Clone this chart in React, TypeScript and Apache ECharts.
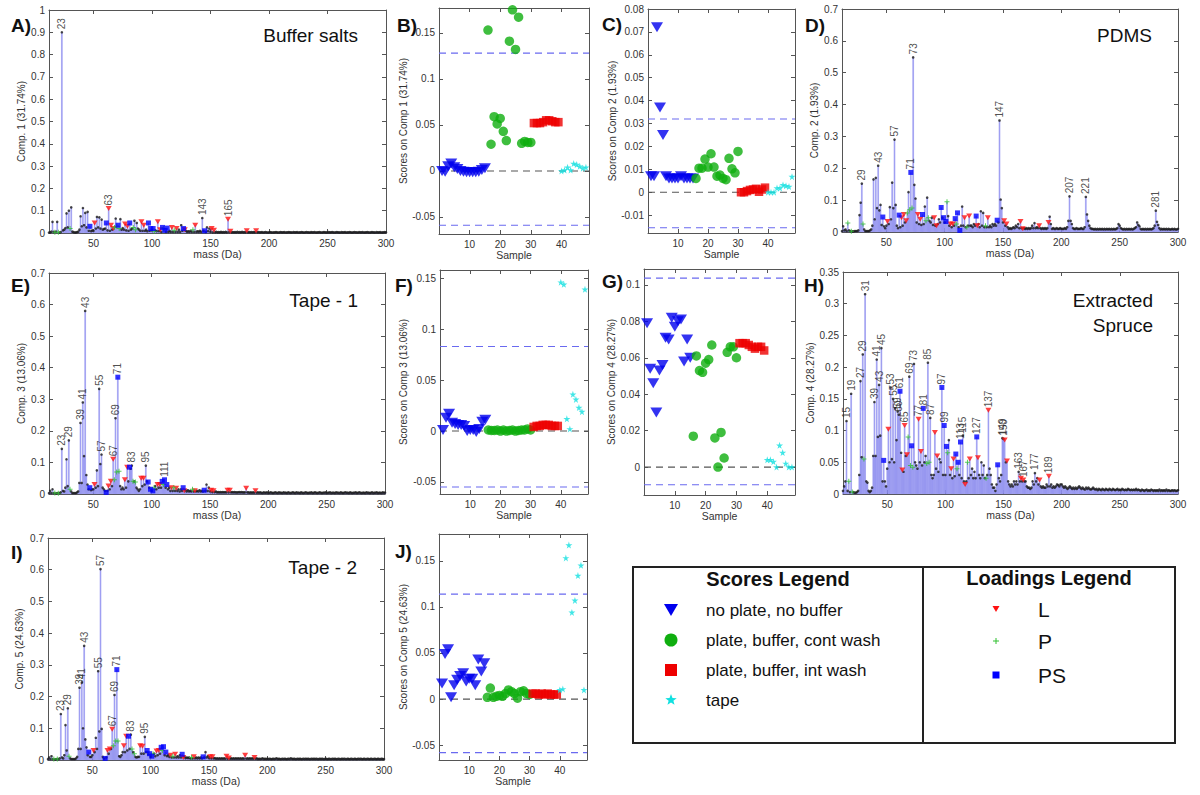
import React, { useEffect, useRef } from "react";
import * as echarts from "echarts";

const FONT = "'Liberation Sans', Arial, Helvetica, sans-serif";
const FRAME = "#555";
const TXT = "#222";

// ---------- shared axes / categories ----------
const MASS_FIRST = 12; // loadings are given for masses 12..300 Da
const MASS_MIN = 12;
const MASS_MAX = 300;
const SAMPLE_MIN = 0;
const SAMPLE_MAX = 49;
const massTicks = [50, 100, 150, 200, 250, 300];
const sampleTicks = [10, 20, 30, 40];
const ticksLoad07 = [0, 0.1, 0.2, 0.3, 0.4, 0.5, 0.6, 0.7];
const ticksLoad1 = [0, 0.1, 0.2, 0.3, 0.4, 0.5, 0.6, 0.7, 0.8, 0.9, 1];
const ticksLoad035 = [0, 0.05, 0.1, 0.15, 0.2, 0.25, 0.3, 0.35];
const ticksScore15 = [-0.05, 0, 0.05, 0.1, 0.15];
const ticksScoreC = [-0.01, 0, 0.01, 0.02, 0.03, 0.04, 0.05, 0.06, 0.07, 0.08];
const ticksScoreG = [0, 0.02, 0.04, 0.06, 0.08, 0.1];

// variable classes (masses)
const classL = [51, 63, 65, 67, 77, 79, 91, 93, 105, 107, 117, 121, 128, 137, 151, 153, 165, 167, 181, 189];
const classP = [17, 20, 30, 68, 70, 72, 84, 86, 102, 110, 119, 135];
const classPS = [47, 61, 71, 81, 97, 99, 101, 109, 111, 113, 127, 145];

// ---------- loadings (x 1e-3), masses 12..300 ----------
const compA = [
  2,3,6,50,5,3,6,50,3,2, 4,900,12,15,22,88,25,100,20,115, 6,4,2,3,4,6,15,75,30,112,
  35,90,25,95,10,30,8,12,10,45, 20,72,25,70,20,60,15,18,20,45, 12,110,10,35,15,20,25,65,30,35,
  20,62,15,22,15,40,12,30,10,45, 15,20,25,55,15,45,20,15,10,50, 10,35,10,15,8,45,10,20,12,20,
  8,12,8,50,8,15,5,25,20,12, 5,22,5,10,5,25,5,12,5,20, 5,15,5,35,10,20,15,10,5,8,
  5,10,5,15,5,35,5,8,5,10, 5,67,10,10,5,25,8,20,5,20, 3,12,3,5,3,4,3,5,3,4,
  3,5,3,62,4,8,3,4,3,4, 3,5,3,4,3,5,3,4,3,10, 3,4,3,4,3,4,3,10,3,4,
  3,3,4,2,3,4,3,2,3,4, 3,2,3,3,4,3,2,3,4,3, 3,4,2,3,3,4,3,3,2,4,
  3,3,4,2,3,3,4,3,2,3, 4,3,3,2,4,3,3,4,2,3, 3,4,3,2,3,4,3,3,2,4,
  3,3,4,3,2,3,4,3,3,2, 4,3,3,4,2,3,3,4,3,2, 3,4,3,3,2,4,3,3,4,2,
  3,3,4,3,2,3,4,3,3,2, 4,3,3,4,2,3,3,4,3,
];
const compD = [
  3,18,5,8,3,28,5,3,2,2, 2,3,3,3,5,53,92,152,25,8, 3,3,3,3,5,8,20,165,40,170,
  75,208,68,85,22,47,18,12,20,33, 25,78,40,155,75,290,85,20,12,53, 15,45,20,55,30,35,60,125,70,187,
  75,548,148,105,30,55,25,40,22,55, 25,80,35,108,45,35,30,45,22,45, 20,20,25,40,30,77,45,45,30,33,
  95,50,20,25,15,25,20,42,25,60, 15,5,20,80,20,45,15,15,20,50, 20,20,15,25,20,50,20,25,15,65,
  20,60,15,20,15,45,15,20,15,25, 20,25,20,37,30,350,102,75,30,35, 20,25,15,10,12,10,12,15,12,20,
  15,25,12,33,12,10,12,10,12,10, 12,10,12,20,12,28,12,15,12,20, 12,10,12,10,12,10,12,30,48,25,
  10,12,10,10,12,10,10,12,10,10, 10,12,10,15,35,112,35,25,12,10, 10,12,10,10,10,12,10,10,15,110,
  55,35,20,12,10,10,8,10,8,10, 8,10,8,10,8,10,8,10,8,10, 8,10,8,10,8,10,12,25,20,12,
  10,8,10,8,10,8,10,8,10,8, 10,12,15,30,22,18,10,8,10,8, 10,8,10,8,10,8,10,12,20,67,
  32,22,12,8,10,8,10,8,10,8, 10,8,8,10,8,10,8,8,10,
];
const compE = [
  3,10,3,15,3,3,2,3,2,3, 5,143,10,8,20,110,25,170,15,8, 3,3,3,3,5,8,35,225,35,290,
  120,580,60,30,15,20,12,15,15,30, 20,75,25,333,95,125,20,15,10,5, 10,25,15,40,25,110,45,240,70,370,
  72,25,15,20,15,45,20,85,40,85, 80,90,40,40,38,20,15,10,15,50, 25,50,30,90,40,38,20,15,10,10,
  20,25,15,30,20,30,20,40,30,45, 20,30,15,20,10,20,10,20,10,18, 10,15,8,15,10,20,10,12,8,12,
  8,10,8,15,8,10,8,10,8,12, 8,10,8,12,10,30,10,20,8,12, 6,10,6,8,5,6,5,6,5,6,
  5,6,5,12,5,12,5,6,5,6, 5,5,5,6,5,6,5,5,5,18, 5,5,4,5,4,5,4,10,4,5,
  4,5,4,3,5,4,4,5,3,4, 5,4,3,4,5,4,3,5,4,4, 3,5,4,4,3,5,4,3,4,5,
  4,3,5,4,4,3,5,4,3,4, 5,4,3,4,4,5,3,4,5,4, 3,4,5,4,3,4,4,5,3,4,
  4,5,3,4,4,3,5,4,4,3, 5,4,3,4,5,4,4,3,5,4, 3,4,4,5,3,4,5,4,3,4,
  4,3,5,4,4,3,4,5,3,4, 4,5,3,4,4,3,5,4,4,
];
const compH = [
  5,12,20,115,5,20,3,158,3,3, 2,2,3,5,30,178,58,220,55,315, 20,18,5,3,5,10,60,145,60,212,
  90,172,92,230,20,53,20,12,40,102, 50,168,55,150,50,135,85,130,125,162, 65,38,35,108,60,62,90,185,45,76,
  42,205,50,45,40,118,50,67,45,135, 50,60,48,207,50,120,30,25,30,97, 40,60,35,55,50,168,30,108,30,75,
  65,85,30,40,25,55,28,63,40,50, 30,82,25,92,20,15,20,50,25,55, 30,40,25,35,25,90,57,30,25,50,
  30,45,25,25,30,132,40,30,15,10, 10,5,15,46,25,20,30,88,87,85, 50,52,20,15,12,15,12,20,15,20,
  15,35,20,25,20,22,20,20,12,10, 10,8,10,20,15,33,20,25,15,22, 12,10,12,10,10,15,12,28,12,15,
  10,12,10,12,15,14,12,15,15,12, 10,12,10,8,10,12,10,8,10,8, 10,8,10,12,10,8,10,8,7,10,
  8,10,8,7,8,10,8,7,8,6, 8,7,6,8,7,6,8,7,6,8, 7,6,8,7,6,7,8,6,7,6,
  8,7,6,7,6,8,7,6,7,6, 7,6,8,6,7,6,5,7,6,5, 6,7,5,6,5,7,6,5,6,5,
  6,5,7,5,6,5,6,5,7,5, 6,5,5,6,5,6,5,5,6,
];
const compI = [
  3,8,3,12,3,3,2,3,3,3, 5,145,8,5,15,110,30,163,12,5, 3,3,3,3,5,10,35,228,35,245,
  100,360,65,40,15,25,10,10,15,30, 25,70,35,280,90,602,98,10,5,5, 8,30,20,35,35,97,45,205,60,285,
  60,12,10,15,25,45,25,75,30,75, 35,80,35,25,20,10,8,10,10,45, 20,43,20,73,25,30,18,20,10,12,
  20,20,12,28,15,30,20,40,30,42, 15,25,12,15,10,15,8,12,8,18, 8,12,8,15,8,18,8,10,6,8,
  6,8,5,8,5,10,5,8,5,8, 5,8,5,10,8,25,8,12,6,10, 5,10,5,6,4,5,4,5,4,5,
  4,5,4,12,4,6,4,5,4,5, 4,5,4,5,4,5,4,5,4,15, 4,5,4,5,4,5,4,8,4,5,
  3,4,3,4,5,3,4,3,4,3, 4,3,3,4,3,4,5,3,4,3, 3,4,3,4,3,3,4,3,5,4,
  3,4,3,3,4,3,4,3,3,4, 3,4,3,4,3,3,4,3,4,3, 4,3,3,4,3,4,3,3,4,3,
  3,4,3,3,4,3,4,3,3,4, 3,3,4,3,4,3,3,4,3,3, 4,3,3,4,3,3,4,3,4,3,
  3,4,3,3,4,3,3,4,3,3, 4,3,3,4,3,3,4,3,3,
];

const labelsA = [23, 63, 143, 165];
const labelsD = [29, 43, 57, 71, 73, 147, 207, 221, 281];
const labelsE = [23, 29, 39, 41, 43, 55, 57, 67, 69, 71, 83, 95, 111];
const labelsH = [15, 19, 27, 29, 31, 39, 41, 43, 45, 53, 55, 59, 60, 61, 65, 69, 73, 77, 81, 85, 87, 97, 99, 113, 115, 127, 137, 149, 150, 163, 167, 177, 189];
const labelsI = [23, 29, 39, 41, 43, 55, 57, 67, 69, 71, 83, 95];

// ---------- scores ----------
const samplesNoPlate = [1, 2, 3, 4, 5, 6, 7, 8, 9, 10, 11, 12, 13, 14, 15];
const samplesContWash = [16, 17, 18, 19, 20, 21, 22, 23, 24, 25, 26, 27, 28, 29, 30];
const samplesIntWash = [31, 32, 33, 34, 35, 36, 37, 38, 39];
const samplesTape = [40, 41, 42, 43, 44, 45, 46, 47, 48];

const bNoPlate = [0.0, -0.001, 0.005, 0.008, 0.004, 0.002, 0.0, -0.001, -0.0015, -0.0015, -0.0015, -0.0015, -0.001, 0.001, 0.003];
const bCont = [0.153, 0.029, 0.059, 0.051, 0.057, 0.043, 0.033, 0.141, 0.175, 0.132, 0.167, 0.03, 0.032, 0.031, 0.031];
const bInt = [0.052, 0.052, 0.052, 0.053, 0.055, 0.055, 0.054, 0.053, 0.053];
const bTape = [0.0, 0.001, 0.004, 0.001, 0.008, 0.007, 0.005, 0.003, 0.004];
const bLimits = [0.128, -0.059];

const cNoPlate = [0.007, 0.007, 0.072, 0.037, 0.025, 0.007, 0.006, 0.006, 0.006, 0.006, 0.007, 0.006, 0.006, 0.006, 0.006];
const cCont = [0.006, 0.0105, 0.0105, 0.0145, 0.011, 0.0168, 0.011, 0.007, 0.0075, 0.006, 0.0055, 0.0148, 0.0102, 0.0085, 0.0178];
const cInt = [0.0, 0.0, 0.0005, 0.001, 0.0012, 0.0015, 0.0002, 0.0012, 0.002];
const cTape = [0.0, 0.0, 0.0, 0.0018, 0.0018, 0.0032, 0.0028, 0.0025, 0.0068];
const cLimits = [0.032, -0.0155];

const fNoPlate = [0.001, 0.013, 0.017, 0.008, 0.007, 0.006, 0.006, 0.005, 0.0, 0.001, 0.001, -0.001, 0.002, 0.009, 0.011];
const fCont = [0.001, 0.0005, 0.0005, 0.001, 0.0, 0.001, 0.0, 0.0005, 0.001, 0.0, 0.0005, 0.001, 0.001, 0.002, 0.001];
const fInt = [0.004, 0.005, 0.005, 0.006, 0.006, 0.006, 0.005, 0.005, 0.005];
const fTape = [0.146, 0.144, 0.012, 0.002, 0.036, 0.031, 0.023, 0.019, 0.139];
const fLimits = [0.083, -0.055];

const gNoPlate = [0.079, 0.054, 0.046, 0.03, 0.053, 0.056, 0.071, 0.07, 0.082, 0.077, 0.08, 0.081, 0.058, 0.07, 0.06];
const gCont = [0.017, 0.061, 0.053, 0.052, 0.057, 0.059, 0.067, 0.016, 0.0, 0.019, 0.005, 0.063, 0.066, 0.066, 0.06];
const gInt = [0.068, 0.068, 0.068, 0.067, 0.066, 0.065, 0.066, 0.066, 0.064];
const gTape = [0.004, 0.004, 0.003, 0.0, 0.012, 0.008, 0.002, 0.0, 0.0];
const gLimits = [0.1037, -0.0097];

const jNoPlate = [0.017, 0.049, 0.054, 0.002, 0.015, 0.021, 0.025, 0.028, 0.019, 0.022, 0.022, 0.015, 0.043, 0.03, 0.039];
const jCont = [0.002, 0.012, 0.002, 0.003, 0.004, 0.003, 0.006, 0.01, 0.008, 0.006, 0.001, 0.008, 0.009, 0.006, 0.005];
const jInt = [0.006, 0.006, 0.005, 0.006, 0.005, 0.006, 0.005, 0.005, 0.005];
const jTape = [0.01, 0.011, 0.153, 0.167, 0.094, 0.107, 0.134, 0.145, 0.01];
const jLimits = [0.1138, -0.058];

// ---------- styles ----------
const C_BLUE = "#0000ee";
const C_GREEN = "#0fae0f";
const C_RED = "#ee0000";
const C_CYAN = "#11e0e0";
const C_LIMIT = "#6a6af0";
const STAR = "path://M50,0 L61,35 L98,35 L68,57 L79,91 L50,70 L21,91 L32,57 L2,35 L39,35 Z";
const PLUS = "path://M4,0 H6 V4 H10 V6 H6 V10 H4 V6 H0 V4 H4 Z";

const loadPanels = [
  { grid: { left: 49, top: 10, width: 337, height: 223 }, vals: compA, labels: labelsA, yMax: 1, yTicks: ticksLoad1, yName: "Comp. 1 (31.74%)", yGap: 23 },
  { grid: { left: 842, top: 9, width: 336, height: 223 }, vals: compD, labels: labelsD, yMax: 0.7, yTicks: ticksLoad07, yName: "Comp. 2 (1.93%)", yGap: 23 },
  { grid: { left: 49, top: 273, width: 336, height: 221 }, vals: compE, labels: labelsE, yMax: 0.7, yTicks: ticksLoad07, yName: "Comp. 3 (13.06%)", yGap: 23 },
  { grid: { left: 843, top: 272, width: 335, height: 222 }, vals: compH, labels: labelsH, yMax: 0.35, yTicks: ticksLoad035, yName: "Comp. 4 (28.27%)", yGap: 26 },
  { grid: { left: 48, top: 538, width: 336, height: 222 }, vals: compI, labels: labelsI, yMax: 0.7, yTicks: ticksLoad07, yName: "Comp. 5 (24.63%)", yGap: 24 },
];

const scorePanels = [
  { grid: { left: 439, top: 8, width: 150, height: 226 }, groups: [bNoPlate, bCont, bInt, bTape], limits: bLimits, yMin: -0.0685, yMax: 0.177, yTicks: ticksScore15, yName: "Scores on Comp 1 (31.74%)", yGap: 30 },
  { grid: { left: 648, top: 9, width: 147, height: 224 }, groups: [cNoPlate, cCont, cInt, cTape], limits: cLimits, yMin: -0.0178, yMax: 0.08, yTicks: ticksScoreC, yName: "Scores on Comp 2 (1.93%)", yGap: 30 },
  { grid: { left: 440, top: 270, width: 148, height: 224 }, groups: [fNoPlate, fCont, fInt, fTape], limits: fLimits, yMin: -0.0618, yMax: 0.158, yTicks: ticksScore15, yName: "Scores on Comp 3 (13.06%)", yGap: 32 },
  { grid: { left: 644, top: 269, width: 151, height: 226 }, groups: [gNoPlate, gCont, gInt, gTape], limits: gLimits, yMin: -0.0153, yMax: 0.1087, yTicks: ticksScoreG, yName: "Scores on Comp 4 (28.27%)", yGap: 28 },
  { grid: { left: 439, top: 534, width: 148, height: 226 }, groups: [jNoPlate, jCont, jInt, jTape], limits: jLimits, yMin: -0.066, yMax: 0.179, yTicks: ticksScore15, yName: "Scores on Comp 5 (24.63%)", yGap: 31 },
];

const fmt = (v: any) => String(parseFloat(Number(v).toFixed(4)));

function axesFor(i: number, xr: [number, number], xt: number[], xName: string, yr: [number, number], yt: number[], yName: string, yGap: number) {
  const line = { show: true, onZero: false, lineStyle: { color: FRAME, width: 1 } };
  const tick = (vals: number[]) => ({ show: true, inside: true, length: 4, customValues: vals, lineStyle: { color: FRAME } });
  const lab = (vals: number[]) => ({ show: true, customValues: vals, formatter: fmt, fontSize: 10, color: "#333", fontFamily: FONT, margin: 5 });
  const xs = [
    { type: "value", gridIndex: i, min: xr[0], max: xr[1], position: "bottom", axisLine: line, axisTick: tick(xt), axisLabel: lab(xt), splitLine: { show: false },
      name: xName, nameLocation: "middle", nameGap: 15, nameTextStyle: { fontSize: 10.5, color: "#333", fontFamily: FONT } },
    { type: "value", gridIndex: i, min: xr[0], max: xr[1], position: "top", axisLine: line, axisTick: tick(xt), axisLabel: { show: false }, splitLine: { show: false } },
  ];
  const ys = [
    { type: "value", gridIndex: i, min: yr[0], max: yr[1], position: "left", axisLine: line, axisTick: tick(yt), axisLabel: { ...lab(yt), margin: 4 }, splitLine: { show: false },
      name: yName, nameLocation: "middle", nameGap: yGap, nameTextStyle: { fontSize: 10, color: "#333", fontFamily: FONT } },
    { type: "value", gridIndex: i, min: yr[0], max: yr[1], position: "right", axisLine: line, axisTick: tick(yt), axisLabel: { show: false }, splitLine: { show: false } },
  ];
  return { xs, ys };
}

function buildOption() {
  const grid: any[] = [];
  const xAxis: any[] = [];
  const yAxis: any[] = [];
  const series: any[] = [];
  let gi = 0;

  loadPanels.forEach((p) => {
    grid.push({ ...p.grid, containLabel: false });
    const { xs, ys } = axesFor(gi, [MASS_MIN, MASS_MAX], massTicks, "mass (Da)", [0, p.yMax], p.yTicks, p.yName, p.yGap);
    xAxis.push(...xs);
    yAxis.push(...ys);
    const ax = { xAxisIndex: gi * 2, yAxisIndex: gi * 2 };
    const pts = p.vals.map((v, k) => [MASS_FIRST + k, v / 1000]);
    const inL = (m: number) => classL.includes(m);
    const inP = (m: number) => classP.includes(m);
    const inPS = (m: number) => classPS.includes(m);
    series.push({ type: "bar", ...ax, data: pts, barWidth: 1.3, silent: true,
      itemStyle: { color: "#b4b4f6", borderColor: "#7676ea", borderWidth: 0.45 } });
    series.push({ type: "scatter", ...ax, silent: true, symbol: "circle", symbolSize: 2.6, itemStyle: { color: "#1a1a1a" },
      data: pts.filter((d) => !inL(d[0]) && !inP(d[0]) && !inPS(d[0])) });
    series.push({ type: "scatter", ...ax, silent: true, symbol: "triangle", symbolRotate: 180, symbolSize: [6, 5], itemStyle: { color: "#ff1010" },
      data: pts.filter((d) => inL(d[0])) });
    series.push({ type: "scatter", ...ax, silent: true, symbol: PLUS, symbolSize: 5, itemStyle: { color: "#30c030" },
      data: pts.filter((d) => inP(d[0])) });
    series.push({ type: "scatter", ...ax, silent: true, symbol: "rect", symbolSize: 5, itemStyle: { color: "#0000ff" },
      data: pts.filter((d) => inPS(d[0])) });
    series.push({ type: "scatter", ...ax, silent: true, symbolSize: 0,
      data: p.labels.map((m) => [m, p.vals[m - MASS_FIRST] / 1000]),
      label: { show: true, formatter: (q: any) => String(q.value[0]), position: "top", distance: 3, rotate: 90, align: "left", verticalAlign: "middle",
        fontSize: 10, color: TXT, fontFamily: FONT } });
    gi++;
  });

  scorePanels.forEach((p) => {
    grid.push({ ...p.grid, containLabel: false });
    const { xs, ys } = axesFor(gi, [SAMPLE_MIN, SAMPLE_MAX], sampleTicks, "Sample", [p.yMin, p.yMax], p.yTicks, p.yName, p.yGap);
    xAxis.push(...xs);
    yAxis.push(...ys);
    const ax = { xAxisIndex: gi * 2, yAxisIndex: gi * 2 };
    const dash = [7, 5];
    const hline = (y: number, color: string) => ({
      type: "line", ...ax, silent: true, symbol: "none", z: 1,
      data: [[SAMPLE_MIN, y], [SAMPLE_MAX, y]],
      lineStyle: { color, type: dash, width: 1.1 }, itemStyle: { color },
    });
    // confidence limits (blue dashed) and zero line (grey dashed)
    series.push(hline(p.limits[0], C_LIMIT));
    series.push(hline(p.limits[1], C_LIMIT));
    series.push(hline(0, "#555555"));
    const [g1, g2, g3, g4] = p.groups;
    series.push({ type: "scatter", ...ax, silent: true, symbol: "triangle", symbolRotate: 180, symbolSize: [12, 10], itemStyle: { color: C_BLUE },
      data: samplesNoPlate.map((s, k) => [s, g1[k]]) });
    series.push({ type: "scatter", ...ax, silent: true, symbol: "circle", symbolSize: 9.5, itemStyle: { color: C_GREEN },
      data: samplesContWash.map((s, k) => [s, g2[k]]) });
    series.push({ type: "scatter", ...ax, silent: true, symbol: "rect", symbolSize: 8.5, itemStyle: { color: C_RED },
      data: samplesIntWash.map((s, k) => [s, g3[k]]) });
    series.push({ type: "scatter", ...ax, silent: true, symbol: STAR, symbolSize: 7, itemStyle: { color: C_CYAN },
      data: samplesTape.map((s, k) => [s, g4[k]]) });
    gi++;
  });

  const txt = (text: string, x: number, y: number, size: number, opts: any = {}) => ({
    type: "text", x, y, silent: true,
    style: { text, fontSize: size, fontFamily: FONT, fill: "#111", textVerticalAlign: "middle", verticalAlign: "middle", ...opts },
  });

  const letters = [
    ["A)", 11, 25], ["B)", 397, 25], ["C)", 602, 24], ["D)", 805, 25],
    ["E)", 11, 285], ["F)", 395, 285], ["G)", 602, 281], ["H)", 804, 285],
    ["I)", 11, 552], ["J)", 395, 551],
  ] as [string, number, number][];

  const graphic: any[] = [];
  letters.forEach(([t, x, y]) => graphic.push(txt(t, x, y, 19, { fontWeight: "bold", textAlign: "left", align: "left" })));
  const titles = [
    ["Buffer salts", 358, 35], ["PDMS", 1152, 35], ["Tape - 1", 358, 300],
    ["Extracted", 1153, 300], ["Spruce", 1153, 325], ["Tape - 2", 357, 567],
  ] as [string, number, number][];
  titles.forEach(([t, x, y]) => graphic.push(txt(t, x, y, 19, { textAlign: "right", align: "right" })));

  // legend box
  graphic.push({ type: "rect", silent: true, shape: { x: 633, y: 567, width: 542, height: 176 }, style: { fill: "none", stroke: "#222", lineWidth: 2 } });
  graphic.push({ type: "line", silent: true, shape: { x1: 923, y1: 567, x2: 923, y2: 743 }, style: { stroke: "#222", lineWidth: 2 } });
  graphic.push(txt("Scores Legend", 778, 579, 20, { fontWeight: "bold", textAlign: "center", align: "center" }));
  graphic.push(txt("Loadings Legend", 1049, 578, 20, { fontWeight: "bold", textAlign: "center", align: "center" }));
  const scoreItems = [["no plate, no buffer", 610], ["plate, buffer, cont wash", 640], ["plate, buffer, int wash", 670], ["tape", 700]] as [string, number][];
  scoreItems.forEach(([t, y]) => graphic.push(txt(t, 706, y, 17, { textAlign: "left", align: "left" })));
  const mx = 671;
  graphic.push({ type: "polygon", silent: true, shape: { points: [[mx - 7, 604], [mx + 7, 604], [mx, 616]] }, style: { fill: C_BLUE } });
  graphic.push({ type: "circle", silent: true, shape: { cx: mx, cy: 640, r: 6.5 }, style: { fill: C_GREEN } });
  graphic.push({ type: "rect", silent: true, shape: { x: mx - 6, y: 664, width: 12, height: 12 }, style: { fill: C_RED } });
  const starPts: number[][] = [];
  for (let k = 0; k < 10; k++) {
    const r = k % 2 === 0 ? 6 : 2.5;
    const a = -Math.PI / 2 + (k * Math.PI) / 5;
    starPts.push([mx + r * Math.cos(a), 700 + r * Math.sin(a)]);
  }
  graphic.push({ type: "polygon", silent: true, shape: { points: starPts }, style: { fill: C_CYAN } });

  const lx = 996;
  const loadItems = [["L", 609], ["P", 641], ["PS", 675]] as [string, number][];
  loadItems.forEach(([t, y]) => graphic.push(txt(t, 1038, y, 21, { textAlign: "left", align: "left" })));
  graphic.push({ type: "polygon", silent: true, shape: { points: [[lx - 3.5, 606], [lx + 3.5, 606], [lx, 612]] }, style: { fill: "#ff1010" } });
  graphic.push({ type: "line", silent: true, shape: { x1: lx - 3, y1: 641, x2: lx + 3, y2: 641 }, style: { stroke: "#30c030", lineWidth: 1 } });
  graphic.push({ type: "line", silent: true, shape: { x1: lx, y1: 638, x2: lx, y2: 644 }, style: { stroke: "#30c030", lineWidth: 1 } });
  graphic.push({ type: "rect", silent: true, shape: { x: lx - 3.5, y: 671.5, width: 7, height: 7 }, style: { fill: "#0000ff" } });

  return {
    animation: false,
    backgroundColor: "#ffffff",
    textStyle: { fontFamily: FONT },
    grid, xAxis, yAxis, series, graphic,
  };
}

export default function App() {
  const ref = useRef<HTMLDivElement>(null);
  useEffect(() => {
    const chart = echarts.init(ref.current as HTMLDivElement, null, { renderer: "svg" });
    chart.setOption(buildOption() as any);
    return () => chart.dispose();
  }, []);
  return <div ref={ref} style={{ position: "fixed", left: 0, top: 0, width: 1200, height: 795, background: "#fff" }} />;
}
